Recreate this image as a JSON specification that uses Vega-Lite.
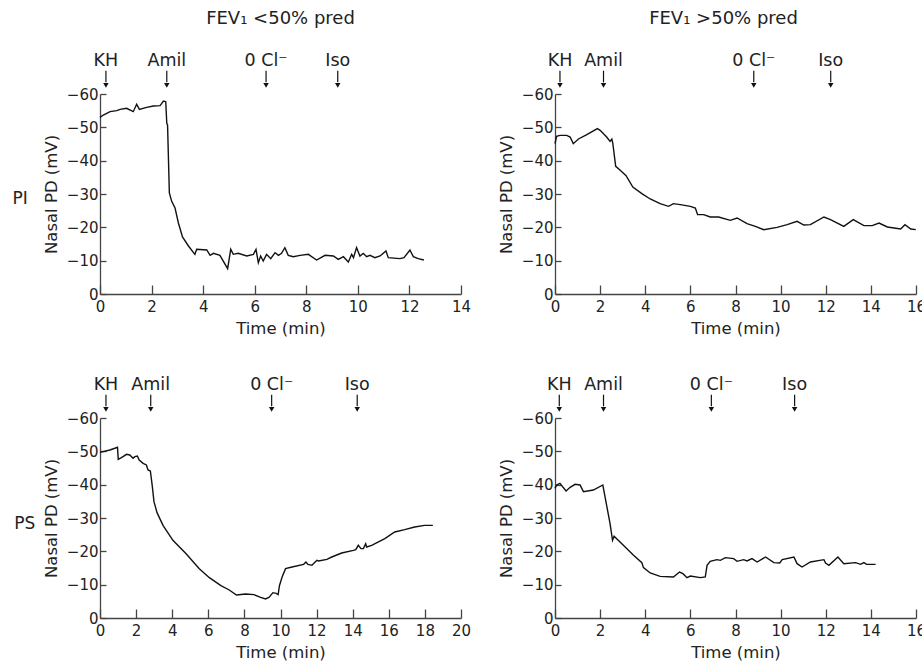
{
  "$schema": "https://vega.github.io/schema/vega-lite/v6.json",
  "padding": {"left": 12, "top": 9, "right": 5, "bottom": 5},
  "background": "white",
  "config": {
    "font": "DejaVu Sans",
    "view": {"stroke": null},
    "axis": {
      "grid": false,
      "domainColor": "#444",
      "tickColor": "#444",
      "domainWidth": 1.3,
      "tickWidth": 1.3,
      "labelFont": "DejaVu Sans",
      "labelFontSize": 15,
      "labelColor": "#222",
      "labelOverlap": false,
      "titleFont": "DejaVu Sans",
      "titleFontSize": 16.5,
      "titleFontWeight": "normal",
      "titleColor": "#222"
    },
    "axisX": {"tickSize": -9, "labelPadding": 14, "titlePadding": 6, "labelFlush": false},
    "axisY": {"tickSize": -6, "labelPadding": 8, "titlePadding": 7},
    "title": {"font": "DejaVu Sans", "fontSize": 18, "fontWeight": "normal", "color": "#222"},
    "concat": {"spacing": 0}
  },
  "datasets": {
    "pA": [
      {"t": 0, "v": -53.0}, {"t": 0.13, "v": -53.7}, {"t": 0.39, "v": -54.7}, {"t": 0.65, "v": -55.0},
      {"t": 0.78, "v": -55.4}, {"t": 1.03, "v": -55.7}, {"t": 1.29, "v": -54.7}, {"t": 1.42, "v": -56.9},
      {"t": 1.53, "v": -55.4}, {"t": 1.81, "v": -56.0}, {"t": 2.07, "v": -56.4}, {"t": 2.33, "v": -56.5},
      {"t": 2.46, "v": -57.9}, {"t": 2.55, "v": -57.7}, {"t": 2.59, "v": -51.2}, {"t": 2.62, "v": -50.7},
      {"t": 2.69, "v": -30.3}, {"t": 2.78, "v": -27.8}, {"t": 2.91, "v": -25.8}, {"t": 3.04, "v": -21.3},
      {"t": 3.2, "v": -17.1}, {"t": 3.43, "v": -14.4}, {"t": 3.68, "v": -11.9}, {"t": 3.75, "v": -13.4},
      {"t": 4.14, "v": -13.2}, {"t": 4.27, "v": -11.6}, {"t": 4.4, "v": -12.2}, {"t": 4.65, "v": -11.6},
      {"t": 4.95, "v": -7.6}, {"t": 5.07, "v": -13.4}, {"t": 5.17, "v": -11.9}, {"t": 5.36, "v": -12.2},
      {"t": 5.69, "v": -11.4}, {"t": 5.95, "v": -11.9}, {"t": 6.05, "v": -13.4}, {"t": 6.14, "v": -9.4},
      {"t": 6.23, "v": -11.4}, {"t": 6.33, "v": -9.9}, {"t": 6.46, "v": -11.9}, {"t": 6.62, "v": -10.6},
      {"t": 6.79, "v": -12.4}, {"t": 6.92, "v": -11.6}, {"t": 7.04, "v": -12.2}, {"t": 7.17, "v": -13.9},
      {"t": 7.3, "v": -11.6}, {"t": 7.5, "v": -11.2}, {"t": 7.76, "v": -11.6}, {"t": 8.08, "v": -11.9},
      {"t": 8.4, "v": -10.2}, {"t": 8.73, "v": -11.6}, {"t": 9.05, "v": -11.4}, {"t": 9.24, "v": -10.4},
      {"t": 9.44, "v": -11.2}, {"t": 9.63, "v": -9.6}, {"t": 9.76, "v": -11.9}, {"t": 9.83, "v": -10.9},
      {"t": 9.95, "v": -13.9}, {"t": 10.08, "v": -11.4}, {"t": 10.21, "v": -12.2}, {"t": 10.34, "v": -11.2},
      {"t": 10.47, "v": -11.6}, {"t": 10.66, "v": -10.9}, {"t": 10.86, "v": -11.4}, {"t": 11.09, "v": -12.9},
      {"t": 11.18, "v": -10.9}, {"t": 11.63, "v": -10.6}, {"t": 11.79, "v": -10.9}, {"t": 12.02, "v": -13.2},
      {"t": 12.15, "v": -11.2}, {"t": 12.34, "v": -10.6}, {"t": 12.56, "v": -10.2}
    ],
    "pB": [
      {"t": 0, "v": -45.1}, {"t": 0.07, "v": -47.3}, {"t": 0.22, "v": -47.6}, {"t": 0.52, "v": -47.6},
      {"t": 0.67, "v": -47.1}, {"t": 0.81, "v": -45.1}, {"t": 1.04, "v": -46.5}, {"t": 1.41, "v": -47.8},
      {"t": 1.88, "v": -49.6}, {"t": 2.0, "v": -49.1}, {"t": 2.29, "v": -47.1}, {"t": 2.44, "v": -45.8},
      {"t": 2.52, "v": -46.5}, {"t": 2.56, "v": -45.3}, {"t": 2.69, "v": -38.3}, {"t": 2.89, "v": -37.1},
      {"t": 3.15, "v": -35.5}, {"t": 3.45, "v": -32.1}, {"t": 3.85, "v": -30.1}, {"t": 4.22, "v": -28.5},
      {"t": 4.66, "v": -27.1}, {"t": 5.03, "v": -26.3}, {"t": 5.25, "v": -27.1}, {"t": 5.55, "v": -26.8},
      {"t": 6.0, "v": -26.3}, {"t": 6.22, "v": -25.8}, {"t": 6.32, "v": -23.8}, {"t": 6.59, "v": -23.8},
      {"t": 6.88, "v": -23.1}, {"t": 7.25, "v": -23.1}, {"t": 7.77, "v": -22.1}, {"t": 8.07, "v": -22.8},
      {"t": 8.51, "v": -21.1}, {"t": 8.88, "v": -20.3}, {"t": 9.25, "v": -19.3}, {"t": 9.84, "v": -20.0},
      {"t": 10.29, "v": -20.8}, {"t": 10.73, "v": -21.8}, {"t": 11.03, "v": -20.7}, {"t": 11.32, "v": -20.8},
      {"t": 11.92, "v": -23.1}, {"t": 12.21, "v": -22.3}, {"t": 12.8, "v": -20.3}, {"t": 13.22, "v": -22.3},
      {"t": 13.69, "v": -20.5}, {"t": 14.06, "v": -20.5}, {"t": 14.36, "v": -21.3}, {"t": 14.73, "v": -20.1},
      {"t": 15.32, "v": -19.5}, {"t": 15.51, "v": -20.8}, {"t": 15.77, "v": -19.5}, {"t": 15.99, "v": -19.3}
    ],
    "pC": [
      {"t": 0, "v": -49.7}, {"t": 0.55, "v": -50.4}, {"t": 0.97, "v": -51.2}, {"t": 1.01, "v": -47.6},
      {"t": 1.19, "v": -48.1}, {"t": 1.47, "v": -49.1}, {"t": 1.65, "v": -48.9}, {"t": 1.83, "v": -47.9},
      {"t": 1.93, "v": -48.4}, {"t": 2.07, "v": -48.6}, {"t": 2.17, "v": -47.4}, {"t": 2.39, "v": -46.4},
      {"t": 2.57, "v": -45.9}, {"t": 2.66, "v": -44.4}, {"t": 2.79, "v": -44.1}, {"t": 2.9, "v": -39.4},
      {"t": 2.99, "v": -34.9}, {"t": 3.16, "v": -31.6}, {"t": 3.49, "v": -27.8}, {"t": 4.04, "v": -23.3},
      {"t": 4.77, "v": -19.3}, {"t": 5.5, "v": -14.8}, {"t": 6.06, "v": -12.1}, {"t": 6.7, "v": -9.7},
      {"t": 7.16, "v": -8.4}, {"t": 7.56, "v": -6.9}, {"t": 8.07, "v": -7.2}, {"t": 8.53, "v": -7.0},
      {"t": 8.9, "v": -6.2}, {"t": 9.17, "v": -5.7}, {"t": 9.36, "v": -6.2}, {"t": 9.58, "v": -7.6},
      {"t": 9.76, "v": -7.4}, {"t": 9.87, "v": -7.0}, {"t": 9.94, "v": -9.7}, {"t": 10.09, "v": -12.3},
      {"t": 10.28, "v": -14.8}, {"t": 10.64, "v": -15.3}, {"t": 11.28, "v": -16.1}, {"t": 11.41, "v": -16.8},
      {"t": 11.52, "v": -16.1}, {"t": 11.74, "v": -15.8}, {"t": 12.02, "v": -17.3}, {"t": 12.11, "v": -17.1},
      {"t": 12.57, "v": -17.6}, {"t": 12.84, "v": -18.3}, {"t": 13.39, "v": -19.5}, {"t": 14.04, "v": -20.3},
      {"t": 14.17, "v": -20.5}, {"t": 14.31, "v": -21.8}, {"t": 14.46, "v": -20.8}, {"t": 14.59, "v": -20.8},
      {"t": 14.72, "v": -22.3}, {"t": 14.77, "v": -21.3}, {"t": 15.05, "v": -21.8}, {"t": 15.78, "v": -23.8},
      {"t": 16.33, "v": -25.8}, {"t": 16.88, "v": -26.5}, {"t": 17.43, "v": -27.3}, {"t": 17.98, "v": -27.8},
      {"t": 18.44, "v": -27.8}
    ],
    "pD": [
      {"t": 0, "v": -38.9}, {"t": 0.07, "v": -39.9}, {"t": 0.22, "v": -40.4}, {"t": 0.49, "v": -38.1},
      {"t": 0.67, "v": -39.2}, {"t": 0.89, "v": -40.1}, {"t": 1.11, "v": -39.9}, {"t": 1.26, "v": -37.9},
      {"t": 1.7, "v": -38.4}, {"t": 2.12, "v": -39.9}, {"t": 2.44, "v": -28.3}, {"t": 2.55, "v": -23.3},
      {"t": 2.62, "v": -24.5}, {"t": 3.03, "v": -21.8}, {"t": 3.48, "v": -18.8}, {"t": 3.85, "v": -16.6},
      {"t": 3.92, "v": -15.1}, {"t": 4.22, "v": -13.5}, {"t": 4.66, "v": -12.5}, {"t": 5.25, "v": -12.3},
      {"t": 5.52, "v": -13.8}, {"t": 5.67, "v": -13.3}, {"t": 5.85, "v": -12.1}, {"t": 6.0, "v": -12.6},
      {"t": 6.44, "v": -12.1}, {"t": 6.66, "v": -12.3}, {"t": 6.74, "v": -15.8}, {"t": 6.88, "v": -17.0},
      {"t": 7.18, "v": -17.5}, {"t": 7.33, "v": -17.3}, {"t": 7.55, "v": -18.1}, {"t": 7.92, "v": -17.8},
      {"t": 8.07, "v": -17.0}, {"t": 8.36, "v": -17.5}, {"t": 8.51, "v": -17.1}, {"t": 8.73, "v": -17.8},
      {"t": 8.96, "v": -16.8}, {"t": 9.33, "v": -18.3}, {"t": 9.7, "v": -16.6}, {"t": 9.96, "v": -16.5},
      {"t": 10.07, "v": -17.5}, {"t": 10.59, "v": -18.3}, {"t": 10.73, "v": -16.3}, {"t": 10.95, "v": -15.3},
      {"t": 11.32, "v": -16.8}, {"t": 11.92, "v": -17.5}, {"t": 11.99, "v": -16.5}, {"t": 12.14, "v": -15.8},
      {"t": 12.54, "v": -18.3}, {"t": 12.8, "v": -16.3}, {"t": 13.32, "v": -16.6}, {"t": 13.54, "v": -16.1},
      {"t": 13.69, "v": -16.6}, {"t": 13.81, "v": -16.1}, {"t": 14.21, "v": -16.1}
    ],
    "eA": [{"event": "KH", "t": 0.23}, {"event": "Amil", "t": 2.59}, {"event": "0 Cl⁻", "t": 6.44}, {"event": "Iso", "t": 9.22}],
    "eB": [{"event": "KH", "t": 0.22}, {"event": "Amil", "t": 2.15}, {"event": "0 Cl⁻", "t": 8.81}, {"event": "Iso", "t": 12.22}],
    "eC": [{"event": "KH", "t": 0.33}, {"event": "Amil", "t": 2.81}, {"event": "0 Cl⁻", "t": 9.51}, {"event": "Iso", "t": 14.25}],
    "eD": [{"event": "KH", "t": 0.19}, {"event": "Amil", "t": 2.15}, {"event": "0 Cl⁻", "t": 6.93}, {"event": "Iso", "t": 10.62}]
  },
  "vconcat": [
    {
      "title": {"text": "PI", "orient": "left", "angle": 0, "anchor": "middle", "offset": 11, "dx": 3, "dy": 18, "fontSize": 17},
      "hconcat": [
        {
          "width": 361, "height": 200,
          "title": {"text": "FEV₁ <50% pred", "anchor": "middle", "offset": 24, "fontSize": 18},
          "encoding": {
            "x": {"field": "t", "type": "quantitative", "title": "Time (min)", "scale": {"domain": [0, 14], "nice": false}, "axis": {"values": [0, 2, 4, 6, 8, 10, 12, 14]}}
          },
          "layer": [
            {"data": {"name": "pA"}, "mark": {"type": "line", "color": "#111", "strokeWidth": 1.4},
             "encoding": {"y": {"field": "v", "type": "quantitative", "title": "Nasal PD (mV)", "scale": {"domain": [0, -60], "nice": false}, "axis": {"values": [0, -10, -20, -30, -40, -50, -60]}}}},
            {"data": {"name": "eA"}, "mark": {"type": "text", "fontSize": 17.5, "color": "#222", "baseline": "middle"},
             "encoding": {"y": {"datum": -70, "type": "quantitative", "title": "Nasal PD (mV)", "axis": {"values": [0, -10, -20, -30, -40, -50, -60]}}, "text": {"field": "event"}}},
            {"data": {"name": "eA"}, "mark": {"type": "rule", "color": "#111", "strokeWidth": 1.2},
             "encoding": {"y": {"datum": -67, "type": "quantitative", "title": "Nasal PD (mV)", "axis": {"values": [0, -10, -20, -30, -40, -50, -60]}}, "y2": {"datum": -63.5}}},
            {"data": {"name": "eA"}, "mark": {"type": "point", "shape": "triangle-down", "filled": true, "size": 30, "color": "#111", "opacity": 1},
             "encoding": {"y": {"datum": -62.6, "type": "quantitative", "title": "Nasal PD (mV)", "axis": {"values": [0, -10, -20, -30, -40, -50, -60]}}}}
          ]
        },
        {
          "width": 361, "height": 200,
          "title": {"text": "FEV₁ >50% pred", "anchor": "middle", "offset": 24, "fontSize": 18, "dx": -12},
          "encoding": {
            "x": {"field": "t", "type": "quantitative", "title": "Time (min)", "scale": {"domain": [0, 16], "nice": false}, "axis": {"values": [0, 2, 4, 6, 8, 10, 12, 14, 16]}}
          },
          "layer": [
            {"data": {"name": "pB"}, "mark": {"type": "line", "color": "#111", "strokeWidth": 1.4},
             "encoding": {"y": {"field": "v", "type": "quantitative", "title": "Nasal PD (mV)", "scale": {"domain": [0, -60], "nice": false}, "axis": {"values": [0, -10, -20, -30, -40, -50, -60]}}}},
            {"data": {"name": "eB"}, "mark": {"type": "text", "fontSize": 17.5, "color": "#222", "baseline": "middle"},
             "encoding": {"y": {"datum": -70, "type": "quantitative", "title": "Nasal PD (mV)", "axis": {"values": [0, -10, -20, -30, -40, -50, -60]}}, "text": {"field": "event"}}},
            {"data": {"name": "eB"}, "mark": {"type": "rule", "color": "#111", "strokeWidth": 1.2},
             "encoding": {"y": {"datum": -67, "type": "quantitative", "title": "Nasal PD (mV)", "axis": {"values": [0, -10, -20, -30, -40, -50, -60]}}, "y2": {"datum": -63.5}}},
            {"data": {"name": "eB"}, "mark": {"type": "point", "shape": "triangle-down", "filled": true, "size": 30, "color": "#111", "opacity": 1},
             "encoding": {"y": {"datum": -62.6, "type": "quantitative", "title": "Nasal PD (mV)", "axis": {"values": [0, -10, -20, -30, -40, -50, -60]}}}}
          ]
        }
      ],
      "spacing": 94,
      "bounds": "flush"
    },
    {
      "title": {"text": "PS", "orient": "left", "angle": 0, "anchor": "middle", "offset": 11, "dx": 13.5, "dy": -2, "fontSize": 17},
      "hconcat": [
        {
          "width": 361, "height": 200,
          "encoding": {
            "x": {"field": "t", "type": "quantitative", "title": "Time (min)", "scale": {"domain": [0, 20], "nice": false}, "axis": {"values": [0, 2, 4, 6, 8, 10, 12, 14, 16, 18, 20]}}
          },
          "layer": [
            {"data": {"name": "pC"}, "mark": {"type": "line", "color": "#111", "strokeWidth": 1.4},
             "encoding": {"y": {"field": "v", "type": "quantitative", "title": "Nasal PD (mV)", "scale": {"domain": [0, -60], "nice": false}, "axis": {"values": [0, -10, -20, -30, -40, -50, -60]}}}},
            {"data": {"name": "eC"}, "mark": {"type": "text", "fontSize": 17.5, "color": "#222", "baseline": "middle"},
             "encoding": {"y": {"datum": -70, "type": "quantitative", "title": "Nasal PD (mV)", "axis": {"values": [0, -10, -20, -30, -40, -50, -60]}}, "text": {"field": "event"}}},
            {"data": {"name": "eC"}, "mark": {"type": "rule", "color": "#111", "strokeWidth": 1.2},
             "encoding": {"y": {"datum": -67, "type": "quantitative", "title": "Nasal PD (mV)", "axis": {"values": [0, -10, -20, -30, -40, -50, -60]}}, "y2": {"datum": -63.5}}},
            {"data": {"name": "eC"}, "mark": {"type": "point", "shape": "triangle-down", "filled": true, "size": 30, "color": "#111", "opacity": 1},
             "encoding": {"y": {"datum": -62.6, "type": "quantitative", "title": "Nasal PD (mV)", "axis": {"values": [0, -10, -20, -30, -40, -50, -60]}}}}
          ]
        },
        {
          "width": 361, "height": 200,
          "encoding": {
            "x": {"field": "t", "type": "quantitative", "title": "Time (min)", "scale": {"domain": [0, 16], "nice": false}, "axis": {"values": [0, 2, 4, 6, 8, 10, 12, 14, 16]}}
          },
          "layer": [
            {"data": {"name": "pD"}, "mark": {"type": "line", "color": "#111", "strokeWidth": 1.4},
             "encoding": {"y": {"field": "v", "type": "quantitative", "title": "Nasal PD (mV)", "scale": {"domain": [0, -60], "nice": false}, "axis": {"values": [0, -10, -20, -30, -40, -50, -60]}}}},
            {"data": {"name": "eD"}, "mark": {"type": "text", "fontSize": 17.5, "color": "#222", "baseline": "middle"},
             "encoding": {"y": {"datum": -70, "type": "quantitative", "title": "Nasal PD (mV)", "axis": {"values": [0, -10, -20, -30, -40, -50, -60]}}, "text": {"field": "event"}}},
            {"data": {"name": "eD"}, "mark": {"type": "rule", "color": "#111", "strokeWidth": 1.2},
             "encoding": {"y": {"datum": -67, "type": "quantitative", "title": "Nasal PD (mV)", "axis": {"values": [0, -10, -20, -30, -40, -50, -60]}}, "y2": {"datum": -63.5}}},
            {"data": {"name": "eD"}, "mark": {"type": "point", "shape": "triangle-down", "filled": true, "size": 30, "color": "#111", "opacity": 1},
             "encoding": {"y": {"datum": -62.6, "type": "quantitative", "title": "Nasal PD (mV)", "axis": {"values": [0, -10, -20, -30, -40, -50, -60]}}}}
          ]
        }
      ],
      "spacing": 94,
      "bounds": "flush"
    }
  ],
  "spacing": 324,
  "bounds": "flush"
}
